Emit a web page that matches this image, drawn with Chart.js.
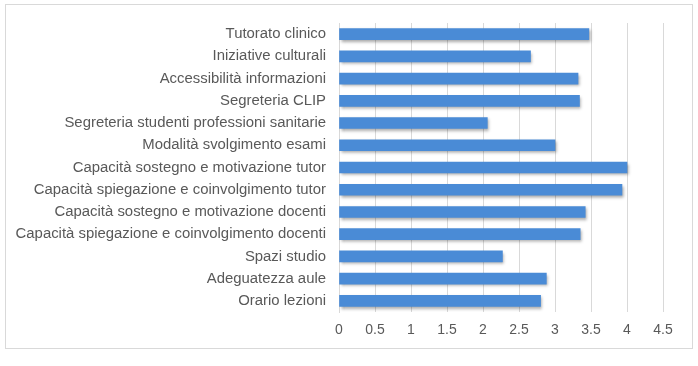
<!DOCTYPE html>
<html>
<head>
<meta charset="utf-8">
<script src="https://cdn.jsdelivr.net/npm/chart.js@4/dist/chart.umd.min.js"></script>
<style>
    html, body { margin: 0; padding: 0; background: #ffffff; }
    #wrap { position: relative; width: 698px; height: 366px; }
    #frame { position: absolute; left: 5px; top: 4px; width: 686px; height: 343px; border: 1px solid #d9d9d9; }
    canvas { position: absolute; left: 0; top: 0; }
</style>
</head>
<body>
<div id="wrap">
    <div id="frame"></div>
    <canvas id="barChart" width="698" height="366"></canvas>
</div>
<script>
const categories = [
    'Tutorato clinico',
    'Iniziative culturali',
    'Accessibilità informazioni',
    'Segreteria CLIP',
    'Segreteria studenti professioni sanitarie',
    'Modalità svolgimento esami',
    'Capacità sostegno e motivazione tutor',
    'Capacità spiegazione e coinvolgimento tutor',
    'Capacità sostegno e motivazione docenti',
    'Capacità spiegazione e coinvolgimento docenti',
    'Spazi studio',
    'Adeguatezza aule',
    'Orario lezioni'
];
const scores = [3.47, 2.66, 3.32, 3.34, 2.06, 3.0, 4.0, 3.93, 3.42, 3.35, 2.27, 2.88, 2.8];
const xTicks = [0, 0.5, 1, 1.5, 2, 2.5, 3, 3.5, 4, 4.5];

document.addEventListener('DOMContentLoaded', () => {
    renderChart();
});

function renderChart() {
    const ctx = document.getElementById('barChart');

    const barShadow = {
        id: 'barShadow',
        beforeDatasetsDraw(chart) {
            const c = chart.ctx;
            c.save();
            c.shadowColor = 'rgba(0, 0, 0, 0.35)';
            c.shadowBlur = 3;
            c.shadowOffsetX = 1.5;
            c.shadowOffsetY = 2;
        },
        afterDatasetsDraw(chart) {
            chart.ctx.restore();
        }
    };

    const barFill = (context) => {
        const el = context.element;
        const c = context.chart.ctx;
        if (!el || el.y === undefined) return '#4a8bd6';
        const g = c.createLinearGradient(0, el.y - 6, 0, el.y + 6);
        g.addColorStop(0, '#6aa8e8');
        g.addColorStop(0.5, '#4d92de');
        g.addColorStop(1, '#3a77c2');
        return g;
    };

    new Chart(ctx, {
        type: 'bar',
        data: {
            labels: categories,
            datasets: [{
                data: scores,
                backgroundColor: barFill,
                borderWidth: 0,
                barThickness: 11
            }]
        },
        options: {
            indexAxis: 'y',
            responsive: false,
            animation: false,
            layout: {
                padding: { top: 23, right: 35, bottom: 0, left: 0 }
            },
            plugins: {
                legend: { display: false },
                tooltip: { enabled: false }
            },
            scales: {
                x: {
                    min: 0,
                    max: 4.5,
                    afterBuildTicks: (scale) => {
                        scale.ticks = xTicks.map((v) => ({ value: v }));
                    },
                    afterFit: (scale) => {
                        scale.height = 54;
                    },
                    grid: {
                        color: '#d9d9d9',
                        drawTicks: false
                    },
                    border: { display: false },
                    ticks: {
                        color: '#595959',
                        padding: 10,
                        maxRotation: 0,
                        callback: (value) => String(value),
                        font: { family: 'Liberation Sans, Arial, sans-serif', size: 14 }
                    }
                },
                y: {
                    afterFit: (scale) => {
                        scale.width = 339;
                    },
                    grid: { display: false, drawTicks: false },
                    border: { display: true, color: '#d9d9d9' },
                    ticks: {
                        color: '#595959',
                        padding: 13,
                        autoSkip: false,
                        font: { family: 'Liberation Sans, Arial, sans-serif', size: 14.9 }
                    }
                }
            }
        },
        plugins: [barShadow]
    });
}
</script>
</body>
</html>
